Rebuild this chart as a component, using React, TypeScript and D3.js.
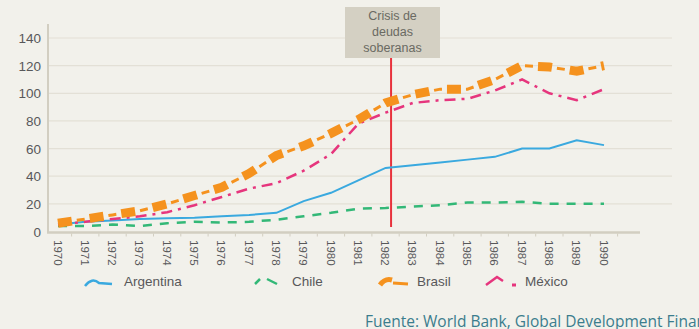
import React from "react";
import * as d3 from "d3";

const years = d3.range(1970, 1991);
const argentina = [5, 7, 8, 9, 9.5, 10, 11, 12, 13.5, 22, 28, 37, 46, 48, 50, 52, 54, 60, 60, 66, 62.5];
const chile = [4, 4, 5, 4, 6, 7, 6.5, 7, 8.5, 11, 13.5, 16.5, 17, 18, 19, 21, 21, 21.5, 20, 20, 20];
const brasil = [6, 9, 12, 15, 20, 26, 32, 42, 55, 62, 71, 81, 93, 99, 103, 103, 110, 120, 119, 116, 120];
const mexico = [5, 7, 9, 11, 14, 19, 25, 31, 35, 44, 56, 78, 86, 93, 95, 96, 102, 110, 100, 95, 103];
const yTicks = [0, 20, 40, 60, 80, 100, 120, 140];
const crisisYear = 1982.2;
const crisisLabel = ["Crisis de", "deudas", "soberanas"];
const sourceText = "Fuente: World Bank, Global Development Finance";

const W = 699;
const H = 329;
const FONT = "'Liberation Sans Narrow', 'Liberation Sans', Arial, sans-serif";

export default function App() {
  const x = d3.scaleLinear().domain([1970, 1990]).range([58, 604]);
  const y = d3.scaleLinear().domain([0, 140]).range([231.5, 38]);
  const line = d3
    .line<number>()
    .x((_, i) => x(years[i]))
    .y((d) => y(d));

  const blue = "#3aa9df";
  const green = "#33b877";
  const orange = "#f5921e";
  const pink = "#e6357d";
  const textCol = "#58585a";

  return (
    <svg
      width={W}
      height={H}
      style={{ position: "absolute", left: 0, top: 0, background: "#f2f1eb" }}
    >
      <rect x={0} y={0} width={W} height={H} fill="#f2f1eb" />
      {yTicks.filter((t) => t > 0).map((t) => (
        <line key={t} x1={48} x2={672} y1={y(t)} y2={y(t)} stroke="#e3e0d6" strokeWidth={1.2} />
      ))}
      <line x1={48} x2={48} y1={24} y2={233} stroke="#d2cec1" strokeWidth={2} />
      <line x1={47} x2={640} y1={y(0) + 1} y2={y(0) + 1} stroke="#d2cec1" strokeWidth={2.5} />
      {years.map((yr) => (
        <line key={yr} x1={x(yr) + 13.6} x2={x(yr) + 13.6} y1={y(0) + 2} y2={y(0) + 5} stroke="#d2cec1" strokeWidth={1} />
      ))}
      {yTicks.map((t) => (
        <text key={t} x={41} y={y(t) + 5} textAnchor="end" fontFamily="Arial, 'Liberation Sans', sans-serif" fontSize={13.5} fill={textCol}>
          {t}
        </text>
      ))}
      {years.map((yr) => (
        <text
          key={yr}
          transform={`translate(${x(yr) - 4.5},${240}) rotate(90)`}
          fontFamily="Arial, 'Liberation Sans', sans-serif"
          fontSize={11.5}
          fill={textCol}
        >
          {yr}
        </text>
      ))}

      <rect x={345} y={7} width={95} height={51} fill="#d4d0c3" />
      {crisisLabel.map((s, i) => (
        <text key={s} x={392.5} y={20 + i * 16} textAnchor="middle" fontFamily={FONT} fontSize={12.5} fill="#6a6a62">
          {s}
        </text>
      ))}
      <line x1={x(crisisYear)} x2={x(crisisYear)} y1={58} y2={227} stroke="#e8323c" strokeWidth={2} />

      <path d={line(chile) || ""} fill="none" stroke={green} strokeWidth={2.5} strokeDasharray="9 8" />
      <path d={line(argentina) || ""} fill="none" stroke={blue} strokeWidth={2} />
      <path d={line(mexico) || ""} fill="none" stroke={pink} strokeWidth={2.5} strokeDasharray="11 6 3 6" />
      <path d={line(brasil) || ""} fill="none" stroke={orange} strokeWidth={3} strokeDasharray="0 19 8 5" />
      <path d={line(brasil) || ""} fill="none" stroke={orange} strokeWidth={9} strokeDasharray="14 18" />

      <path d="M85,286 Q92,277 99,283 L112,284" fill="none" stroke={blue} strokeWidth={2.5} />
      <text x={124} y={286} fontFamily={FONT} fontSize={13.5} fill={textCol}>Argentina</text>
      <path d="M255,284 L260,279" fill="none" stroke={green} strokeWidth={2.5} />
      <path d="M267,279 L277,284" fill="none" stroke={green} strokeWidth={2.5} />
      <text x={292} y={286} fontFamily={FONT} fontSize={13.5} fill={textCol}>Chile</text>
      <path d="M380,285 Q385,278 392,280" fill="none" stroke={orange} strokeWidth={5} />
      <path d="M393,283 L408,284" fill="none" stroke={orange} strokeWidth={3} />
      <text x={417} y={286} fontFamily={FONT} fontSize={13.5} fill={textCol}>Brasil</text>
      <path d="M486,285 L497,277 L503,281" fill="none" stroke={pink} strokeWidth={2.5} />
      <path d="M512,285 L516,285" fill="none" stroke={pink} strokeWidth={3} />
      <text x={525} y={286} fontFamily={FONT} fontSize={13.5} fill={textCol}>México</text>

      <text x={365} y={327} fontFamily="'Open Sans', 'Noto Sans', sans-serif" fontSize={15.5} fill="#3b7d8d">
        {sourceText}
      </text>
    </svg>
  );
}
